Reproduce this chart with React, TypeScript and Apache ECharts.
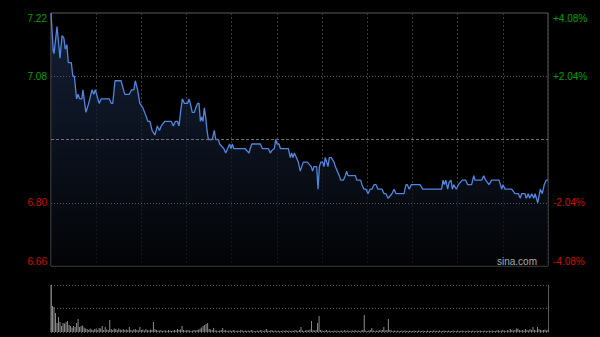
import React, { useEffect, useRef } from "react";
import * as echarts from "echarts";

// Intraday (HK session, 330 trading minutes) price breakpoints: minute offsets and prices
const priceMinutes = [
  0, 1.5, 2, 4, 6, 7.3, 8.5, 9.5, 10.5, 11.5, 13.5, 14.5, 15.5, 17, 18, 19, 20.5, 21.2, 23.2, 25,
  27.2, 28.4, 29.4, 30.3, 32, 33.4, 38.7, 40, 41, 42.5, 46.5, 49, 52, 53.5, 55, 56, 57.5, 59, 61, 62.2,
  64.4, 65.7, 67.1, 69, 70.6, 72, 73.2, 75.5, 79.9, 81.2, 82.5, 84, 85, 86, 87.2, 88.5, 90.7, 91.6, 92.5, 93.8,
  95.2, 96.1, 97.4, 98.3, 99.2, 100, 100.9, 101.8, 102.7, 103.6, 104.5, 107.1, 108.4, 109.4, 111.1, 112, 113.3, 114.7, 116, 117.3,
  118.6, 119.5, 120.4, 121.3, 128.8, 130.1, 131.5, 132.3, 133.3, 139, 140.3, 144.3, 145.6, 146.5, 148.3, 149.2, 150.1, 151.4, 152.3, 157.6,
  158.9, 159.8, 160.7, 161.6, 162.9, 164.2, 165.5, 167.5, 170.2, 171.5, 172.8, 173.7, 174.6, 176.4, 177.3, 178.2, 179.1, 180.4, 181.3, 182.1,
  183.1, 183.9, 184.8, 186.1, 187, 187.9, 188.8, 190.1, 191.4, 192.4, 194.1, 195.4, 196.3, 197.2, 202.1, 203, 205.6, 206.5, 207.8, 209.2,
  210.5, 211.8, 213.1, 214.5, 215.8, 217.1, 219.8, 221.1, 222.4, 223.8, 225.1, 226.4, 227.8, 229.1, 234.4, 235.7, 236.6, 237.9, 239.2, 245,
  246.8, 259.4, 260.3, 261.2, 262.1, 263.4, 264.3, 265.6, 266.5, 267.4, 269.1, 270.5, 273.1, 275.4, 276.7, 279.3, 280.7, 281.5, 286, 287.3,
  288.6, 290.8, 292.6, 297.5, 299.3, 300.1, 301.5, 305.9, 308.1, 310.3, 311.6, 312.5, 314.7, 315.6, 316.9, 317.8, 319.2, 320.5, 321.4, 323.2,
  324.9, 326.2, 327.5, 328.8, 330,
];
const prices = [
  7.22, 7.135, 7.13, 7.19, 7.12, 7.17, 7.165, 7.14, 7.15, 7.11, 7.11, 7.08, 7.08, 7.03, 7.04, 7.03, 7.03, 7.05, 7.0, 7.02,
  7.05, 7.04, 7.05, 7.04, 7.02, 7.03, 7.03, 7.02, 7.02, 7.07, 7.07, 7.04, 7.04, 7.05, 7.05, 7.07, 7.05, 7.02, 7.01, 7.0,
  6.98, 6.98, 6.96, 6.95, 6.97, 6.96, 6.97, 6.98, 6.98, 6.97, 6.98, 6.98, 6.97, 7.0, 7.03, 7.02, 7.02, 7.03, 7.02, 7.0,
  7.0, 7.01, 7.02, 7.02, 6.98, 6.99, 6.98, 7.01, 6.99, 6.96, 6.94, 6.94, 6.96, 6.94, 6.94, 6.93, 6.925, 6.92, 6.91, 6.92,
  6.93, 6.92, 6.93, 6.92, 6.92, 6.915, 6.91, 6.92, 6.93, 6.93, 6.92, 6.92, 6.91, 6.915, 6.92, 6.94, 6.93, 6.93, 6.92, 6.92,
  6.9, 6.91, 6.9, 6.91, 6.9, 6.89, 6.87, 6.89, 6.89, 6.885, 6.88, 6.87, 6.88, 6.88, 6.83, 6.88, 6.89, 6.89, 6.88, 6.9,
  6.89, 6.88, 6.9, 6.9, 6.895, 6.89, 6.88, 6.87, 6.86, 6.85, 6.85, 6.86, 6.87, 6.86, 6.86, 6.85, 6.85, 6.84, 6.83, 6.83,
  6.82, 6.83, 6.83, 6.84, 6.84, 6.83, 6.83, 6.82, 6.82, 6.81, 6.815, 6.82, 6.83, 6.82, 6.82, 6.84, 6.84, 6.83, 6.84, 6.84,
  6.83, 6.83, 6.85, 6.84, 6.85, 6.83, 6.845, 6.85, 6.83, 6.84, 6.83, 6.84, 6.85, 6.85, 6.84, 6.84, 6.86, 6.85, 6.85, 6.86,
  6.85, 6.84, 6.85, 6.85, 6.83, 6.84, 6.83, 6.83, 6.82, 6.82, 6.81, 6.82, 6.82, 6.81, 6.82, 6.81, 6.82, 6.81, 6.82, 6.8,
  6.83, 6.82, 6.84, 6.85, 6.85,
];

// Per-minute volume (minute 0 .. 330)
const volumes = [
  4700, 2600, 2500, 1900, 900, 1500, 1000, 600, 900, 850,
  1000, 1100, 700, 600, 450, 600, 500, 900, 1300, 500,
  600, 650, 450, 350, 300, 200, 350, 250, 200, 300,
  350, 200, 400, 350, 600, 200, 500, 250, 200, 1200,
  300, 200, 350, 300, 200, 350, 250, 200, 300, 200,
  250, 200, 500, 200, 150, 250, 300, 200, 150, 500,
  200, 250, 150, 300, 200, 150, 250, 200, 1000, 300,
  200, 150, 150, 200, 100, 150, 150, 100, 200, 150,
  100, 150, 200, 150, 300, 200, 250, 600, 200, 150,
  150, 200, 150, 100, 150, 200, 150, 200, 250, 350,
  450, 600, 700, 800, 900, 300, 250, 200, 400, 150,
  150, 100, 150, 200, 400, 150, 200, 100, 150, 150,
  100, 200, 150, 100, 150, 100, 200, 150, 100, 150,
  100, 150, 100, 200, 150, 100, 100, 150, 100, 200,
  150, 100, 150, 300, 150, 100, 200, 150, 100, 150,
  100, 150, 100, 100, 150, 100, 200, 100, 150, 100,
  150, 100, 200, 150, 100, 200, 500, 150, 100, 150,
  200, 150, 250, 1100, 200, 150, 200, 900, 1600, 200,
  150, 100, 150, 200, 100, 150, 100, 100, 150, 100,
  150, 100, 100, 150, 100, 200, 100, 150, 100, 100,
  150, 100, 200, 100, 150, 100, 150, 200, 1700, 150,
  100, 150, 200, 400, 150, 100, 150, 100, 200, 150,
  200, 500, 150, 200, 1300, 200, 150, 100, 150, 100,
  150, 100, 100, 150, 100, 150, 100, 100, 150, 100,
  100, 150, 100, 100, 150, 100, 100, 150, 100, 100,
  150, 100, 100, 100, 150, 100, 100, 100, 150, 100,
  100, 150, 100, 100, 150, 100, 100, 150, 100, 100,
  150, 100, 100, 150, 100, 100, 100, 150, 100, 100,
  150, 100, 100, 150, 100, 150, 100, 100, 150, 100,
  100, 150, 100, 150, 100, 100, 150, 200, 100, 150,
  200, 150, 100, 200, 150, 300, 200, 150, 200, 350,
  350, 200, 150, 200, 150, 300, 200, 150, 300, 200,
  500, 200, 150, 500, 300, 200, 150, 200, 250, 150,
  200,
];

const leftTicks = [7.22, 7.08, 6.8, 6.66];
const leftTickColors = ["#00a000", "#00a000", "#cc1100", "#cc1100"];
const rightTickLabels = ["+4.08%", "+2.04%", "-2.04%", "-4.08%"];
const prevClose = 6.94;
const gridPrices = [7.08, 6.8];
const sessionMinutes = 330;
const watermark = "sina.com";

function tickIndex(v: number): number {
  let best = 0;
  for (let i = 0; i < leftTicks.length; i++) {
    if (Math.abs(leftTicks[i] - v) < Math.abs(leftTicks[best] - v)) best = i;
  }
  return best;
}

export default function App() {
  const ref = useRef<HTMLDivElement>(null);
  useEffect(() => {
    if (!ref.current) return;
    const chart = echarts.init(ref.current, undefined, { renderer: "svg" });
    const volMax = volumes[0];
    const labelBase = {
      customValues: leftTicks,
      fontSize: 10,
      fontFamily: "Arial",
      margin: 4,
      verticalAlignMinLabel: "top",
      verticalAlignMaxLabel: "bottom",
      color: (v: any) => leftTickColors[tickIndex(Number(v))],
    };
    const option: any = {
      animation: false,
      backgroundColor: "#000000",
      grid: [
        { left: 51, top: 13, width: 497, height: 253, show: true, borderColor: "#5c5c5c", borderWidth: 1, backgroundColor: "transparent" },
        { left: 51, top: 285, width: 497, height: 47 },
      ],
      xAxis: [
        {
          type: "value", gridIndex: 0, min: 0, max: sessionMinutes, interval: 30,
          axisLine: { show: false }, axisTick: { show: false }, axisLabel: { show: false },
          splitLine: { show: true, lineStyle: { color: "#3a3a3a", type: [2, 2], width: 1 } },
        },
        {
          type: "value", gridIndex: 1, min: 0, max: sessionMinutes, interval: 30,
          axisLine: { show: false }, axisTick: { show: false }, axisLabel: { show: false }, splitLine: { show: false },
        },
      ],
      yAxis: [
        {
          type: "value", gridIndex: 0, min: 6.66, max: 7.22, position: "left",
          axisLine: { show: false }, axisTick: { show: false }, splitLine: { show: false },
          axisLabel: { ...labelBase, formatter: (v: number) => Number(v).toFixed(2) },
        },
        {
          type: "value", gridIndex: 0, min: 6.66, max: 7.22, position: "right",
          axisLine: { show: false }, axisTick: { show: false }, splitLine: { show: false },
          axisLabel: { ...labelBase, margin: 5, formatter: (v: number) => rightTickLabels[tickIndex(Number(v))] },
        },
        {
          type: "value", gridIndex: 1, min: 0, max: volMax, interval: volMax / 2, position: "left",
          axisLine: { show: true, lineStyle: { color: "#5c5c5c", width: 1 } },
          axisTick: { show: false }, axisLabel: { show: false },
          splitLine: { show: true, lineStyle: { color: "#5a5a5a", type: [1, 2], width: 1 } },
        },
        {
          type: "value", gridIndex: 1, min: 0, max: volMax, interval: volMax / 2, position: "right",
          axisLine: { show: true, lineStyle: { color: "#5c5c5c", width: 1 } },
          axisTick: { show: false }, axisLabel: { show: false }, splitLine: { show: false },
        },
      ],
      series: [
        {
          type: "line",
          xAxisIndex: 0,
          yAxisIndex: 0,
          data: priceMinutes.map((m, i) => [m, prices[i]]),
          symbol: "none",
          lineStyle: { color: "#4f86e0", width: 1.3 },
          areaStyle: {
            origin: "start",
            color: new echarts.graphic.LinearGradient(0, 0, 0, 1, [
              { offset: 0, color: "#1d2e4e" },
              { offset: 1, color: "#040508" },
            ]),
          },
          markLine: {
            silent: true,
            symbol: ["none", "none"],
            label: { show: false },
            data: [
              ...gridPrices.map((p) => ({ yAxis: p, lineStyle: { color: "#555555", type: [1, 2], width: 1 } })),
              { yAxis: prevClose, lineStyle: { color: "#707070", type: [3, 2], width: 1 } },
            ],
          },
          z: 3,
        },
        {
          type: "bar",
          xAxisIndex: 1,
          yAxisIndex: 2,
          data: volumes.map((v, i) => [i, v]),
          barWidth: 1,
          itemStyle: { color: "#8c8c8c" },
        },
      ],
      graphic: [
        {
          type: "text",
          x: 537,
          y: 261,
          style: { text: watermark, fill: "#a8a8a8", fontSize: 10, fontFamily: "Arial", align: "right", verticalAlign: "middle" },
          z: 10,
        },
      ],
    };
    chart.setOption(option);
    return () => chart.dispose();
  }, []);
  return <div ref={ref} style={{ position: "fixed", left: 0, top: 0, width: 600, height: 337 }} />;
}
